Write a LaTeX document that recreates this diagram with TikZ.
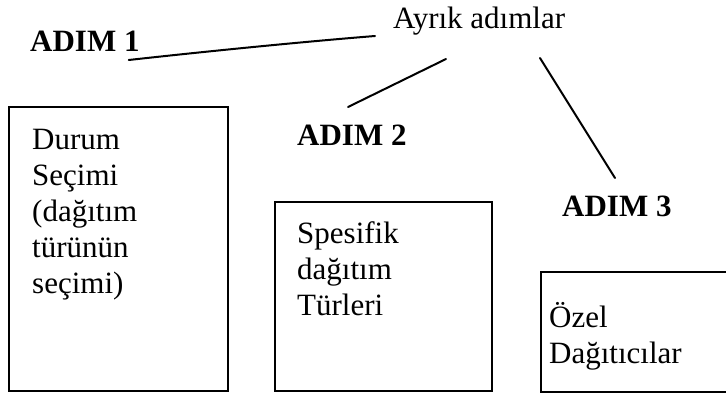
\documentclass[tikz,border=0pt]{standalone}
\usepackage{fontspec}
\setmainfont{Liberation Serif}
\usetikzlibrary{calc}
\begin{document}
\begin{tikzpicture}[x=1pt,y=-1pt,
  txt/.style={inner sep=0pt, anchor=base west, font=\fontsize{31}{36}\selectfont},
  steplabel/.style={inner sep=0pt, anchor=base west, font=\fontsize{31}{36}\selectfont\bfseries},
  panel/.style={draw, line width=1.6pt},
  link/.style={draw, line width=2pt, line cap=round}]
\useasboundingbox (0,0) rectangle (726,396);

% heading and step labels
\node[txt] (title) at (393,29) {Ayrık adımlar};
\node[steplabel] (s1) at (30,52) {ADIM 1};
\node[steplabel] (s2) at (297,146) {ADIM 2};
\node[steplabel] (s3) at (562,216) {ADIM 3};

% the three boxes
\draw[panel] (9,107) rectangle (228,391);
\draw[panel] (275,202) rectangle (492,391);
\draw[panel] (541,272) rectangle (732,392);

% box contents
\node[txt] (b1a) at (32,149) {Durum};
\node[txt] (b1b) at (32,185) {Seçimi};
\node[txt] (b1c) at (32,221) {(dağıtım};
\node[txt] (b1d) at (32,257) {türünün};
\node[txt] (b1e) at (32,293) {seçimi)};

\node[txt] (b2a) at (297,243) {Spesifik};
\node[txt] (b2b) at (297,279) {dağıtım};
\node[txt] (b2c) at (297,315) {Türleri};

\node[txt] (b3a) at (549,327) {Özel};
\node[txt] (b3b) at (549,363) {Dağıtıcılar};

% connector end points, kept a little away from the labels
\coordinate (t1) at ($(title.base west)+(-18,7)$);
\coordinate (t2) at ($(title.base west)+(53,30)$);
\coordinate (t3) at ($(title.base west)+(147,29)$);
\coordinate (e1) at ($(s1.base east)+(-11,8)$);
\coordinate (e2) at ($(s2.base west)+(51,-39)$);
\coordinate (e3) at ($(s3.base west)+(53,-38)$);

\draw[link] (e1) .. controls ($(e1)+(72,-8)$) and ($(t1)+(-75,6)$) .. (t1);
\draw[link] (e2) -- (t2);
\draw[link] (t3) -- (e3);
\end{tikzpicture}
\end{document}
